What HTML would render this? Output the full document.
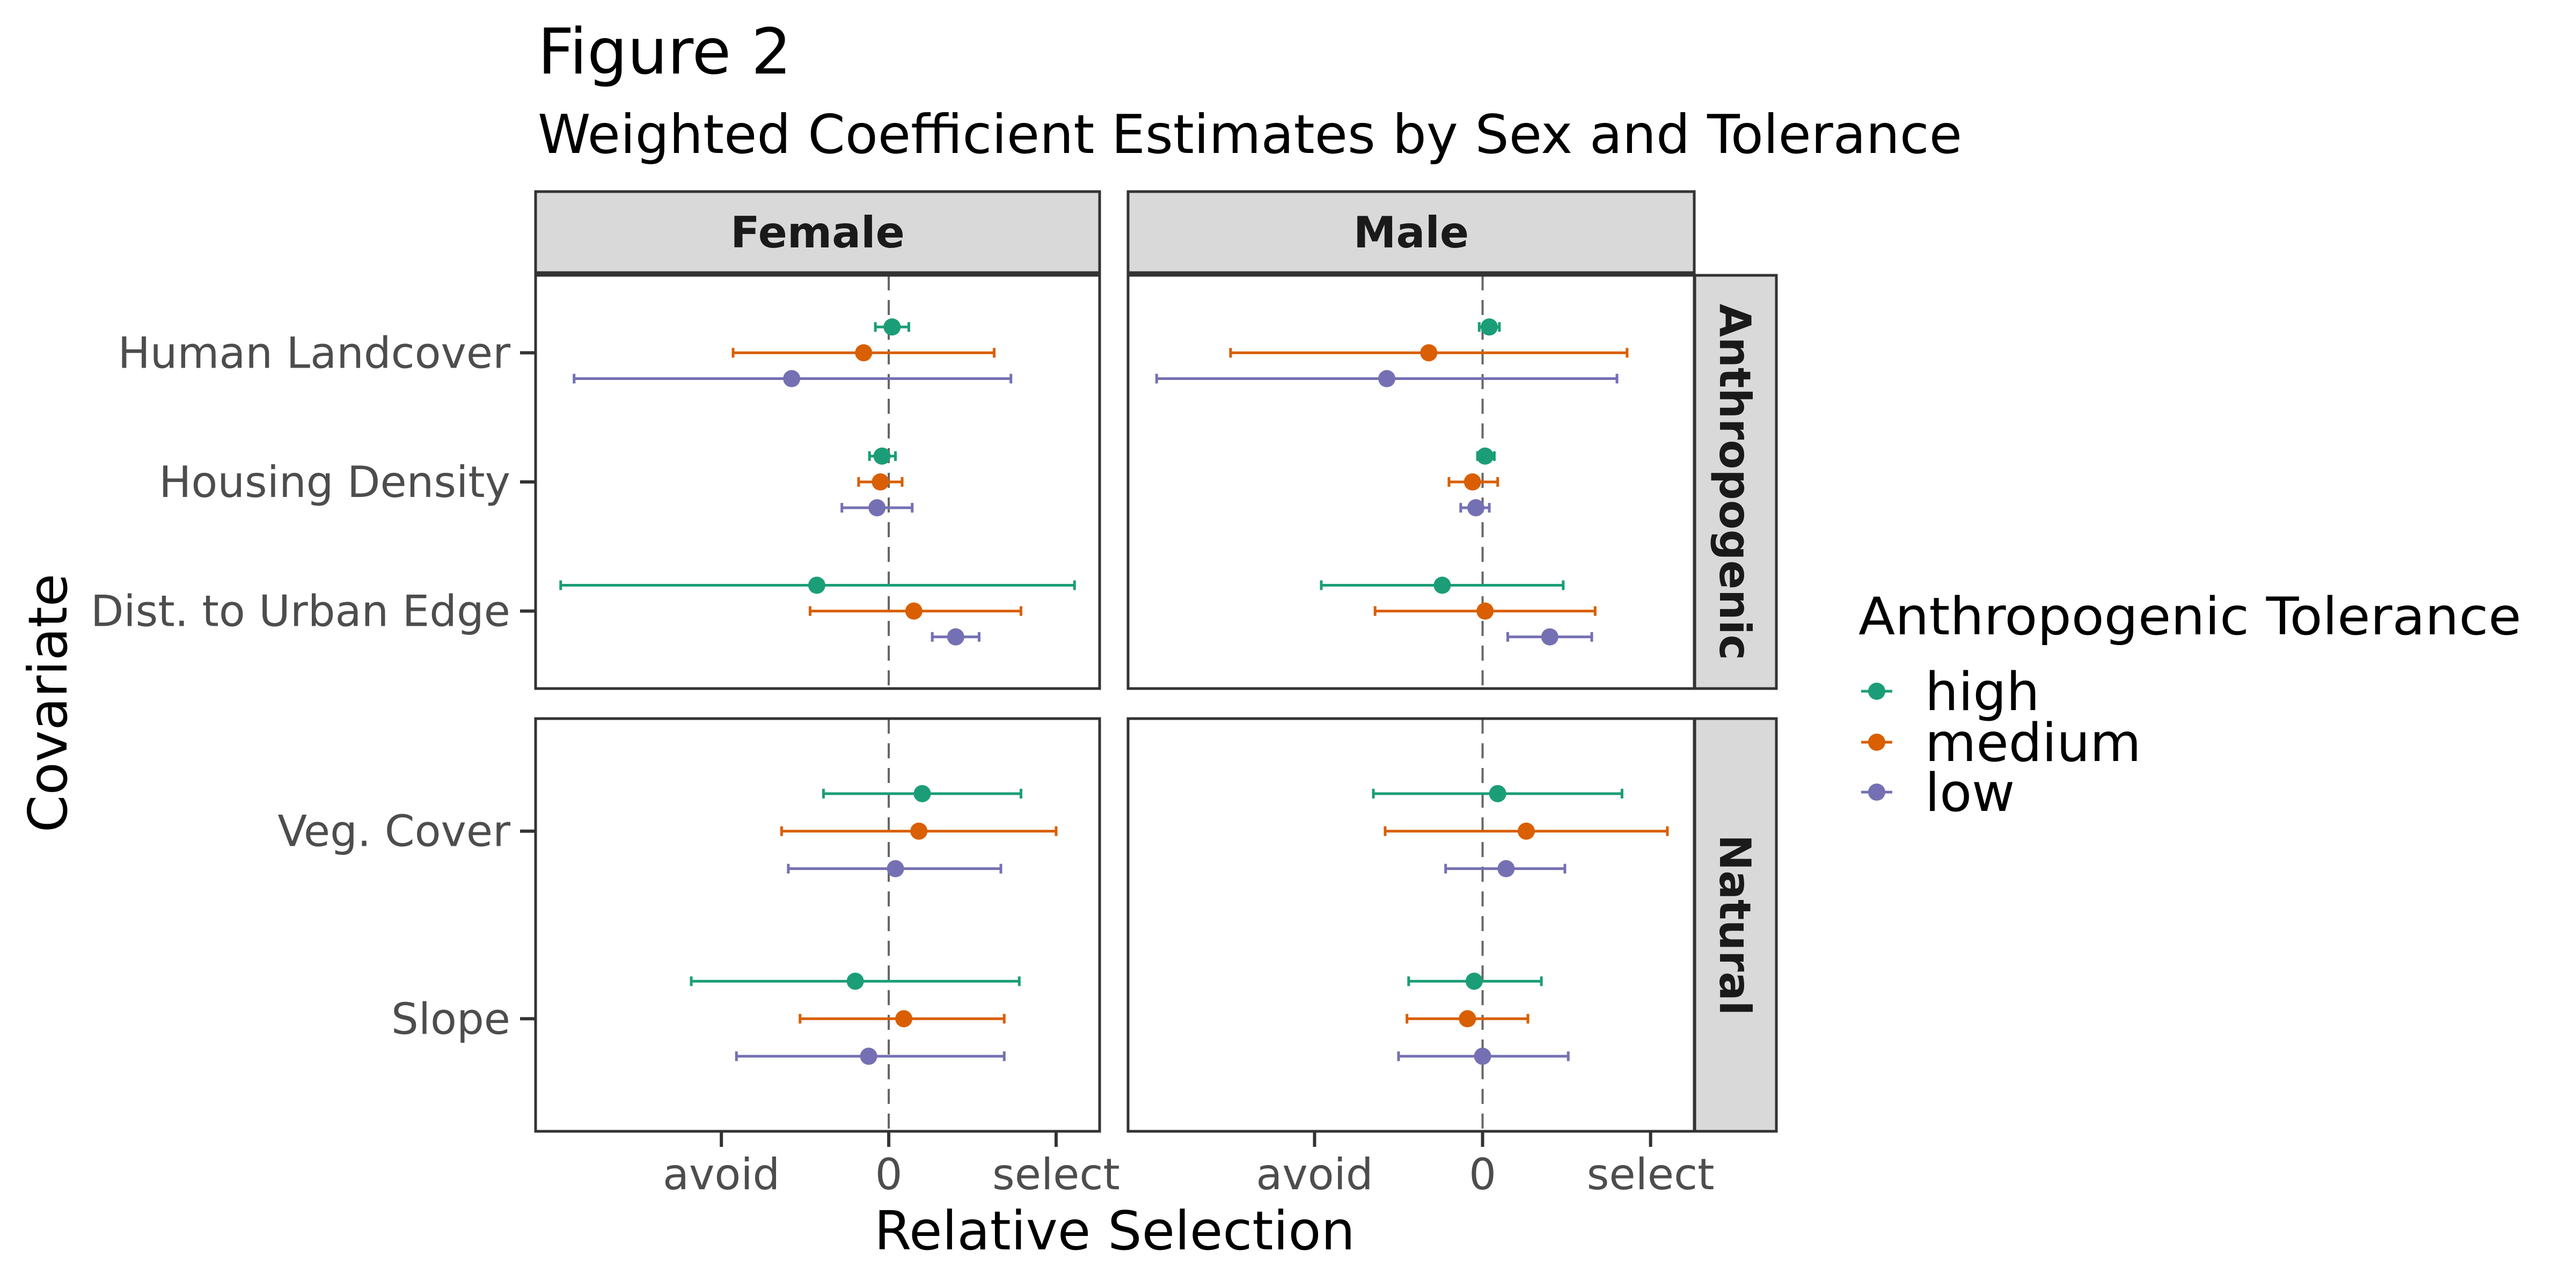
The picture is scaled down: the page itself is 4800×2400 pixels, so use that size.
<!DOCTYPE html>
<html><head><meta charset="utf-8">
<style>
html,body{margin:0;padding:0;background:#fff;}
svg{display:block;}
text{font-family:"DejaVu Sans","Liberation Sans",sans-serif;}
</style></head>
<body>
<svg id="chart" width="4800" height="2400" viewBox="0 0 4800 2400" xmlns="http://www.w3.org/2000/svg">
<rect width="4800" height="2400" fill="#fff"/>
<text x="1002" y="137" font-size="118" fill="#000">Figure 2</text>
<text x="1002" y="285" font-size="100" fill="#000" textLength="2654" lengthAdjust="spacingAndGlyphs">Weighted Coefficient Estimates by Sex and Tolerance</text>
<g id="plot"></g>
<text x="2077" y="2328" font-size="100" text-anchor="middle" fill="#000">Relative Selection</text>
<text transform="translate(124,1310) rotate(-90)" font-size="100" text-anchor="middle" fill="#000">Covariate</text>
<g>
<text x="3463" y="1182" font-size="96" fill="#000" textLength="1235" lengthAdjust="spacingAndGlyphs">Anthropogenic Tolerance</text>
<g id="legend-items"></g>
</g>
</svg>
<script>
// ---- data ----
const sexes = ["Female", "Male"];
const groups = ["Anthropogenic", "Natural"];
const covAnthro = ["Human Landcover", "Housing Density", "Dist. to Urban Edge"];
const covNatural = ["Veg. Cover", "Slope"];
const tolerances = ["high", "medium", "low"];
const tolColors = ["#1B9E77", "#D95F02", "#7570B3"];
const xTickLabels = ["avoid", "0", "select"];
const xTickValues = [-1, 0, 1];
// estimates [covariate][tolerance]
const femaleAnthroEst = [[0.02,-0.15,-0.58],[-0.04,-0.05,-0.07],[-0.43,0.15,0.40]];
const femaleAnthroLo  = [[-0.08,-0.93,-1.88],[-0.115,-0.18,-0.28],[-1.96,-0.47,0.26]];
const femaleAnthroHi  = [[0.12,0.63,0.73],[0.04,0.08,0.14],[1.11,0.79,0.54]];
const maleAnthroEst = [[0.04,-0.32,-0.57],[0.015,-0.06,-0.04],[-0.24,0.015,0.40]];
const maleAnthroLo  = [[-0.02,-1.50,-1.94],[-0.03,-0.20,-0.13],[-0.96,-0.64,0.15]];
const maleAnthroHi  = [[0.10,0.86,0.80],[0.07,0.09,0.04],[0.48,0.67,0.65]];
const femaleNaturalEst = [[0.20,0.18,0.04],[-0.20,0.09,-0.12]];
const femaleNaturalLo  = [[-0.39,-0.64,-0.60],[-1.18,-0.53,-0.91]];
const femaleNaturalHi  = [[0.79,1.00,0.67],[0.78,0.69,0.69]];
const maleNaturalEst = [[0.09,0.26,0.14],[-0.05,-0.09,0.00]];
const maleNaturalLo  = [[-0.65,-0.58,-0.22],[-0.44,-0.45,-0.50]];
const maleNaturalHi  = [[0.83,1.10,0.49],[0.35,0.27,0.51]];
const xDomain = [-2.11, 1.26];

const NS = "http://www.w3.org/2000/svg";
function mk(tag, attrs, parent){
  const e = document.createElementNS(NS, tag);
  for (const k in attrs) e.setAttribute(k, attrs[k]);
  parent.appendChild(e);
  return e;
}
const plot = document.getElementById("plot");
const colX = [[998,2049],[2102,3157]];
const rowY = [[513,1283],[1339,2108]];
const covs = [covAnthro, covNatural];
const data = {
  Female:[[femaleAnthroEst,femaleAnthroLo,femaleAnthroHi],[femaleNaturalEst,femaleNaturalLo,femaleNaturalHi]],
  Male:[[maleAnthroEst,maleAnthroLo,maleAnthroHi],[maleNaturalEst,maleNaturalLo,maleNaturalHi]]
};
function xScale(c, v){
  const [a,b] = colX[c];
  return a + (v - xDomain[0]) / (xDomain[1]-xDomain[0]) * (b-a);
}
function yScale(r, idx, n){
  const [t,b] = rowY[r];
  const unit = (b-t)/(n-1+1.2);
  return t + (0.6 + idx)*unit;
}
function yUnit(r, n){ const [t,b]=rowY[r]; return (b-t)/(n-1+1.2); }

// strips top
sexes.forEach((s,c)=>{
  const [a,b]=colX[c];
  const r = mk("rect",{x:a,y:357,width:b-a,height:151,fill:"#D9D9D9",stroke:"#333",["stroke-width"]:5},plot);
  
  
  const t = mk("text",{x:(a+b)/2,y:461,"font-size":80,"font-weight":"bold","text-anchor":"middle",fill:"#1A1A1A"},plot);
  t.textContent = s;
  
  
});
// strips right
groups.forEach((g,r)=>{
  const [t0,b0]=rowY[r];
  const re = mk("rect",{x:3158,y:t0,width:152,height:b0-t0,fill:"#D9D9D9",stroke:"#333",["stroke-width"]:5},plot);
  
  
  const t = mk("text",{transform:`translate(3205,${(t0+b0)/2}) rotate(90)`,"font-size":80,"font-weight":"bold","text-anchor":"middle",fill:"#1A1A1A"},plot);
  t.textContent = g;
  
  
});

sexes.forEach((s,c)=>{
  groups.forEach((g,r)=>{
    const [a,b]=colX[c], [t0,b0]=rowY[r];
    const panel = mk("g",{},plot);
    
    
    mk("rect",{x:a,y:t0,width:b-a,height:b0-t0,fill:"#fff"},panel);
    const zx = xScale(c,0);
    const zl = mk("line",{x1:zx,x2:zx,y1:t0,y2:b0,stroke:"#666","stroke-width":4,"stroke-dasharray":"28 18"},panel);
    
    
    const cv = covs[r], n = cv.length;
    const [est,lo,hi] = data[s][r];
    const dodge = 0.2*yUnit(r,n);
    cv.forEach((name,i)=>{
      const yc = yScale(r,i,n);
      tolerances.forEach((tol,k)=>{
        const y = yc + (k-1)*dodge;
        const col = tolColors[k];
        const x1 = xScale(c,lo[i][k]), x2 = xScale(c,hi[i][k]);
        const eb = mk("g",{stroke:col,"stroke-width":5},panel);
        
        
        mk("line",{x1:x1,x2:x2,y1:y,y2:y},eb);
        mk("line",{x1:x1,x2:x1,y1:y-9,y2:y+9},eb);
        mk("line",{x1:x2,x2:x2,y1:y-9,y2:y+9},eb);
        const pt = mk("circle",{cx:xScale(c,est[i][k]),cy:y,r:16,fill:col},panel);
        
        
      });
      if (c===0){
        const tk = mk("line",{x1:969,x2:998,y1:yc,y2:yc,stroke:"#333","stroke-width":6},plot);
        
        
        const tl = mk("text",{x:951,y:yc+28,"font-size":80,"text-anchor":"end",fill:"#4D4D4D"},plot);
        tl.textContent = name;
        
        
      }
    });
    mk("rect",{x:a,y:t0,width:b-a,height:b0-t0,fill:"none",stroke:"#333","stroke-width":5},panel);
  });
  // x ticks
  xTickValues.forEach((v,j)=>{
    const x = xScale(c,v);
    const tk = mk("line",{x1:x,x2:x,y1:2108,y2:2137,stroke:"#333","stroke-width":6},plot);
    
    
    const tl = mk("text",{x:x,y:2216,"font-size":80,"text-anchor":"middle",fill:"#4D4D4D"},plot);
    tl.textContent = xTickLabels[j];
    
    
  });
});

// legend
const leg = document.getElementById("legend-items");
const legY = [1288,1383,1476];
tolerances.forEach((tol,k)=>{
  const g = mk("g",{},leg);
  
  
  mk("line",{x1:3468,x2:3526,y1:legY[k],y2:legY[k],stroke:tolColors[k],"stroke-width":5},g);
  mk("circle",{cx:3497,cy:legY[k],r:16,fill:tolColors[k]},g);
  const t = mk("text",{x:3587,y:legY[k]+35,"font-size":98,fill:"#000"},g);
  t.textContent = tol;
});
</script>
</body></html>
